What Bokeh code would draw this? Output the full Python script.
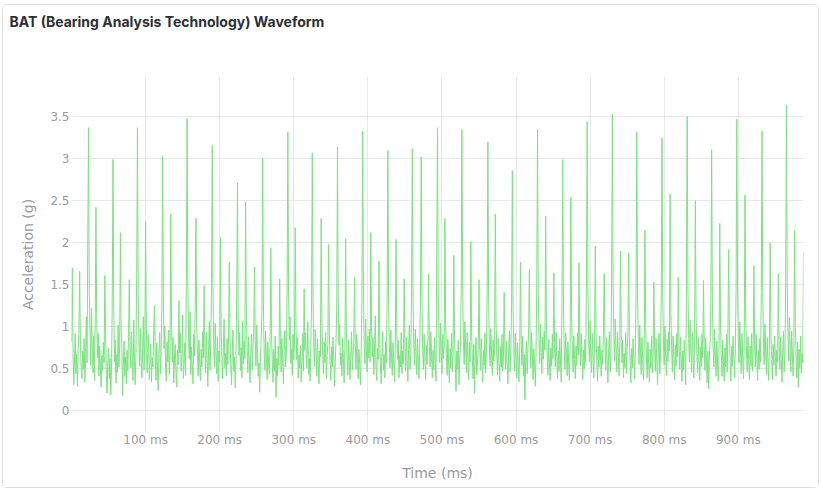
from bokeh.plotting import figure
from bokeh.models import Range1d, FixedTicker, Title
from bokeh.embed import file_html
from bokeh.resources import INLINE

TITLE = "BAT (Bearing Analysis Technology) Waveform"
X_TITLE = "Time (ms)"
Y_TITLE = "Acceleration (g)"

x_tick_values = [100, 200, 300, 400, 500, 600, 700, 800, 900]
x_tick_labels = ["100 ms", "200 ms", "300 ms", "400 ms", "500 ms", "600 ms", "700 ms", "800 ms", "900 ms"]
y_tick_values = [0, 0.5, 1, 1.5, 2, 2.5, 3, 3.5]
y_tick_labels = ["0", "0.5", "1", "1.5", "2", "2.5", "3", "3.5"]

# acceleration samples, 1 ms apart
accel_g = [
    0.82,
    1.70, 0.74, 0.31, 0.58, 0.92, 0.44, 0.67, 0.29, 0.73, 0.95,
    1.66, 0.83, 0.52, 0.38, 0.71, 0.49, 0.86, 0.34, 0.62, 1.12, 0.57, 2.05,
    3.37, 1.38, 0.97, 0.54, 1.22, 0.71, 0.45, 0.89, 0.36, 1.05,
    2.42, 1.12, 0.63, 0.92, 0.41, 0.77, 0.52, 0.28, 0.66, 0.48, 0.81, 0.57,
    1.61, 0.92, 0.43, 0.21, 0.56, 0.74, 0.38, 0.62, 0.19, 0.49, 1.34,
    2.99, 1.26, 0.58, 0.84, 0.33, 0.67, 0.45, 1.02, 0.52, 0.76,
    2.12, 0.96, 0.71, 0.18, 0.55, 0.83, 0.41, 0.64, 0.32, 0.72, 0.47, 0.88,
    1.56, 0.78, 0.51, 0.94, 0.62, 0.36, 1.08, 0.57, 0.31, 0.69, 1.62,
    3.37, 1.44, 0.82, 0.53, 0.98, 0.61, 0.39, 0.74, 1.12, 0.48, 0.86,
    2.25, 1.03, 0.45, 0.68, 0.91, 0.37, 0.59, 0.79, 0.34, 0.63, 0.52, 0.97,
    1.25, 0.62, 0.36, 0.81, 0.53, 0.24, 0.68, 0.93, 0.44, 0.71, 1.28,
    3.03, 1.31, 0.74, 1.01, 0.49, 0.35, 0.82, 0.58, 0.96, 0.43, 0.66,
    2.34, 1.06, 0.58, 0.87, 0.33, 0.61, 0.79, 0.46, 0.28, 0.72, 0.55,
    1.31, 0.69, 0.92, 0.47, 0.63, 1.14, 0.38, 0.57, 0.81, 0.42, 1.48,
    3.48, 1.52, 0.89, 0.61, 1.18, 0.43, 0.76, 0.54, 0.32, 0.91, 0.65, 1.24,
    2.29, 1.02, 0.67, 0.41, 0.84, 0.57, 0.36, 0.73, 0.52, 0.94, 0.63,
    1.49, 0.76, 0.45, 0.93, 0.61, 0.29, 0.71, 1.06, 0.48, 0.82, 1.56,
    3.16, 1.35, 0.79, 0.52, 1.04, 0.66, 0.44, 0.88, 0.35, 0.71, 0.58,
    2.06, 0.97, 0.62, 0.38, 0.77, 1.09, 0.51, 0.69, 0.42, 0.86, 0.55, 0.92,
    1.77, 0.85, 0.54, 0.31, 0.72, 0.96, 0.47, 0.64, 0.27, 0.58, 1.36,
    2.71, 1.18, 0.66, 0.93, 0.48, 0.75, 0.39, 1.07, 0.56, 0.83, 0.62,
    2.49, 1.13, 0.72, 0.45, 0.88, 0.59, 0.33, 0.67, 0.91, 0.49, 0.74, 0.98,
    1.71, 0.84, 0.53, 1.02, 0.68, 0.41, 0.57, 0.22, 0.63, 0.86, 1.18,
    3.01, 1.29, 0.71, 0.48, 0.95, 0.64, 0.37, 0.82, 0.56, 0.43, 0.78,
    1.94, 0.91, 0.58, 0.34, 0.73, 0.47, 0.89, 0.16, 0.62, 0.41, 0.77, 0.54,
    1.57, 0.79, 0.46, 0.86, 0.63, 0.32, 0.71, 0.95, 0.52, 0.68, 1.42,
    3.32, 1.41, 0.84, 1.12, 0.56, 0.73, 0.42, 0.91, 0.61, 0.83,
    2.18, 0.99, 0.61, 0.87, 0.39, 0.66, 0.51, 0.78, 0.34, 0.59, 0.92, 0.47,
    1.45, 0.72, 0.93, 0.51, 0.68, 1.06, 0.43, 0.62, 0.35, 0.74, 1.29,
    3.07, 1.33, 0.76, 0.53, 0.97, 0.68, 0.41, 0.85, 0.59, 0.32, 0.71, 0.64,
    2.29, 1.05, 0.69, 0.44, 0.82, 0.57, 0.93, 0.38, 0.66, 0.79,
    1.98, 0.93, 0.58, 0.36, 0.76, 0.52, 0.88, 0.64, 0.29, 0.57, 0.83, 1.21,
    3.14, 1.36, 0.78, 1.03, 0.54, 0.69, 0.41, 0.86, 0.62, 0.33, 0.74,
    2.05, 0.96, 0.63, 0.42, 0.84, 0.58, 0.37, 0.71, 0.94, 0.48, 0.65, 0.82,
    1.59, 0.77, 0.49, 0.91, 0.62, 0.38, 0.73, 0.55, 0.31, 0.68, 1.39,
    3.33, 1.43, 0.81, 0.56, 1.09, 0.72, 0.46, 0.89, 0.63, 0.97, 0.58,
    2.12, 1.01, 0.64, 0.87, 0.43, 0.69, 1.13, 0.52, 0.36, 0.74, 0.61,
    1.78, 0.86, 0.55, 0.32, 0.71, 0.94, 0.48, 0.67, 0.39, 0.82, 0.57, 1.32,
    3.10, 1.34, 0.77, 0.51, 0.96, 0.63, 0.42, 0.81, 0.58, 0.34, 0.73,
    2.04, 0.95, 0.61, 0.84, 0.39, 0.66, 0.52, 0.93, 0.44, 0.71, 0.56,
    1.57, 0.78, 0.47, 0.88, 0.61, 0.35, 0.73, 1.02, 0.49, 0.67, 1.44,
    3.12, 1.35, 0.79, 0.54, 0.97, 0.68, 0.43, 0.86, 0.61, 0.38, 0.74, 1.36,
    3.02, 1.31, 0.72, 0.49, 0.91, 0.63, 0.37, 0.78, 0.55, 0.84,
    1.63, 0.81, 0.52, 0.94, 0.66, 0.39, 0.72, 0.48, 0.87, 0.58, 0.35, 1.95,
    3.37, 1.45, 0.83, 0.57, 1.04, 0.69, 0.44, 0.91, 0.62, 0.76,
    2.29, 1.04, 0.67, 0.42, 0.85, 0.58, 0.33, 0.74, 0.51, 0.92, 0.46, 0.69,
    1.85, 0.89, 0.56, 0.23, 0.71, 0.49, 0.84, 0.31, 0.62, 0.78, 1.41,
    3.35, 1.44, 0.82, 0.55, 1.06, 0.71, 0.45, 0.93, 0.64, 0.37, 0.81, 0.58,
    2.01, 0.94, 0.62, 0.38, 0.79, 0.21, 0.66, 0.87, 0.43, 0.59, 0.72,
    1.56, 0.77, 0.48, 0.86, 0.61, 0.34, 0.72, 0.54, 0.92, 0.45, 0.68, 1.38,
    3.20, 1.38, 0.79, 0.53, 0.98, 0.66, 0.42, 0.84, 0.59, 0.73,
    2.34, 1.07, 0.68, 0.43, 0.86, 0.57, 0.35, 0.76, 0.52, 0.91, 0.47, 0.64,
    1.41, 0.71, 0.49, 0.83, 0.58, 0.32, 0.69, 0.95, 0.46, 0.74, 1.25,
    2.86, 1.24, 0.71, 0.47, 0.92, 0.63, 0.39, 0.81, 0.56, 0.34, 0.77,
    1.77, 0.85, 0.54, 0.89, 0.41, 0.67, 0.13, 0.58, 0.83, 0.44, 0.71, 0.96,
    1.68, 0.82, 0.51, 0.93, 0.64, 0.37, 0.74, 0.55, 0.29, 0.68, 1.52,
    3.35, 1.43, 0.82, 0.56, 1.03, 0.69, 0.44, 0.88, 0.61, 0.95, 0.72,
    2.32, 1.06, 0.67, 0.42, 0.85, 0.58, 0.36, 0.75, 0.53, 0.91, 0.62,
    1.64, 0.81, 0.52, 0.94, 0.63, 0.38, 0.71, 0.47, 0.86, 0.59, 0.34, 1.31,
    2.99, 1.28, 0.73, 0.49, 0.93, 0.64, 0.41, 0.82, 0.57, 0.36, 0.79,
    2.54, 1.15, 0.72, 0.46, 0.89, 0.61, 0.38, 0.77, 0.54, 0.93, 0.66,
    1.76, 0.85, 0.53, 0.92, 0.64, 0.37, 0.72, 0.49, 0.85, 0.58, 1.47,
    3.44, 1.48, 0.85, 0.58, 1.07, 0.71, 0.45, 0.92, 0.63, 0.39, 0.81,
    1.96, 0.92, 0.59, 0.35, 0.77, 0.52, 0.89, 0.64, 0.41, 0.72, 0.55, 0.97,
    1.63, 0.79, 0.48, 0.87, 0.59, 0.33, 0.71, 0.94, 0.46, 0.67, 1.52,
    3.53, 1.51, 0.86, 0.59, 1.09, 0.73, 0.46, 0.94, 0.65, 0.41, 0.82,
    1.90, 0.91, 0.57, 0.84, 0.39, 0.68, 0.51, 0.93, 0.44, 0.72, 0.96,
    1.88, 0.88, 0.55, 0.33, 0.74, 0.51, 0.86, 0.62, 0.38, 0.69, 1.44,
    3.32, 1.42, 0.81, 0.55, 1.02, 0.68, 0.43, 0.87, 0.59, 0.36, 0.76,
    2.15, 0.99, 0.64, 0.39, 0.82, 0.56, 0.34, 0.73, 0.51, 0.89, 0.45, 0.68,
    1.53, 0.76, 0.47, 0.86, 0.58, 0.31, 0.69, 0.92, 0.44, 0.65, 1.38,
    3.25, 1.39, 0.79, 0.54, 1.01, 0.67, 0.42, 0.85, 0.58, 0.94, 0.71,
    2.58, 1.17, 0.73, 0.46, 0.89, 0.61, 0.37, 0.78, 0.53, 0.92, 0.64,
    1.59, 0.78, 0.49, 0.88, 0.62, 0.35, 0.71, 0.48, 0.84, 0.57, 0.31, 1.49,
    3.50, 1.49, 0.86, 0.58, 1.08, 0.72, 0.45, 0.93, 0.64, 0.39, 0.81,
    2.50, 1.13, 0.71, 0.45, 0.87, 0.59, 0.36, 0.76, 0.52, 0.91, 0.63,
    1.55, 0.77, 0.48, 0.87, 0.59, 0.33, 0.71, 0.26, 0.64, 0.82, 1.33,
    3.11, 1.34, 0.77, 0.52, 0.97, 0.64, 0.41, 0.83, 0.57, 0.35, 0.74,
    2.23, 1.02, 0.65, 0.41, 0.84, 0.57, 0.35, 0.75, 0.52, 0.91, 0.46, 0.97,
    1.92, 0.91, 0.58, 0.35, 0.77, 0.53, 0.89, 0.62, 0.39, 0.71, 1.45,
    3.47, 1.48, 0.85, 0.57, 1.06, 0.71, 0.44, 0.92, 0.63, 0.38, 0.79,
    2.57, 1.16, 0.72, 0.46, 0.88, 0.61, 0.37, 0.77, 0.53, 0.92, 0.47, 0.68,
    1.73, 0.84, 0.52, 0.91, 0.63, 0.36, 0.72, 0.49, 0.86, 0.58, 1.41,
    3.33, 1.42, 0.81, 0.55, 1.03, 0.68, 0.43, 0.87, 0.59, 0.36, 0.77,
    2.00, 0.94, 0.61, 0.37, 0.79, 0.54, 0.89, 0.63, 0.41, 0.72, 0.58,
    1.63, 0.79, 0.49, 0.88, 0.61, 0.34, 0.72, 0.95, 0.46, 0.67, 1.58,
    3.64, 1.54, 0.88, 0.59, 1.11, 0.74, 0.46, 0.95, 0.65, 0.41, 0.82,
    2.15, 0.99, 0.64, 0.39, 0.82, 0.28, 0.73, 0.51, 0.89, 0.45, 0.68, 0.57,
    1.88,
]
time_ms = list(range(len(accel_g)))

GRID = "#e8e8e8"
TICK_COLOR = "#9a9a9a"
LINE_COLOR = "#7be381"
FONT = "DejaVu Sans"

p = figure(
    width=817, height=484,
    output_backend="svg", toolbar_location=None,
    x_range=Range1d(0, len(accel_g) - 1), y_range=Range1d(-0.26, 3.98),
    min_border_left=68, min_border_right=17, min_border_top=71, min_border_bottom=57,
    title=TITLE,
)
p.margin = (4, 0, 0, 2)
p.styles = {"border": "1px solid #dedede", "border-radius": "5px"}
p.outline_line_color = None
p.background_fill_color = "white"
p.border_fill_color = "white"

p.title.text_font = "Inter"
p.title.text_font_size = "14px"
p.title.text_font_style = "bold"
p.title.text_color = "#2b2f36"
p.title.align = "left"
p.title.offset = -62
p.title.standoff = 6

# empty spacer between the title and the plot area
spacer = Title(text=" ", text_font_size="14px", standoff=26)
p.add_layout(spacer, "above")

p.line(time_ms, accel_g, line_color=LINE_COLOR, line_width=1)

p.xaxis.ticker = FixedTicker(ticks=x_tick_values)
p.xaxis.major_label_overrides = {v: s for v, s in zip(x_tick_values, x_tick_labels)}
p.yaxis.ticker = FixedTicker(ticks=y_tick_values)
p.yaxis.major_label_overrides = {v: s for v, s in zip(y_tick_values, y_tick_labels)}

for ax in (p.xaxis[0], p.yaxis[0]):
    ax.axis_line_color = None
    ax.major_tick_line_color = None
    ax.minor_tick_line_color = None
    ax.major_tick_out = 0
    ax.major_tick_in = 0
    ax.minor_tick_out = 0
    ax.minor_tick_in = 0
    ax.major_label_text_color = TICK_COLOR
    ax.major_label_text_font = FONT
    ax.major_label_text_font_size = "12px"
    ax.axis_label_text_color = TICK_COLOR
    ax.axis_label_text_font = FONT
    ax.axis_label_text_font_size = "14px"
    ax.axis_label_text_font_style = "normal"

p.xaxis.axis_label = X_TITLE
p.yaxis.axis_label = Y_TITLE
p.xaxis.major_label_standoff = 0
p.xaxis.axis_label_standoff = 15
p.yaxis.major_label_standoff = 2
p.yaxis.axis_label_standoff = 11

p.xgrid.grid_line_color = GRID
p.ygrid.grid_line_color = GRID
p.xgrid.grid_line_width = 1
p.ygrid.grid_line_width = 1

open("out.html", "w").write(file_html(p, INLINE))
